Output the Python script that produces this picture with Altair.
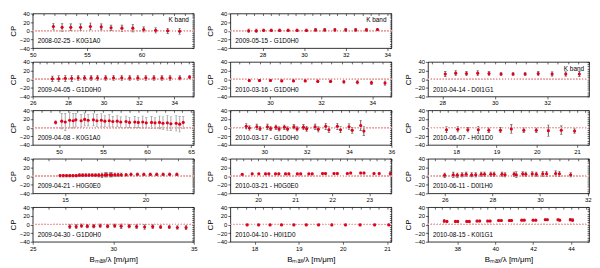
import altair as alt
import pandas as pd

FONT = "Liberation Sans"
RED = "#e3001b"

# ---------------- data ----------------
P1_X = [51.9, 52.7, 53.5, 54.4, 55.3, 56.3, 57.2, 58.2, 59.2, 60.2, 61.3, 62.4, 63.5]
P1_Y = [10, 8, 8, 8, 10, 9, 7, 6, 6, 3, 1, 0, -1]
P1_E = [7, 9, 8, 8, 8, 7, 6, 7, 9, 6, 6, 6, 7]

P2_X = [27.11, 27.47, 27.84, 28.2, 28.57, 28.93, 29.3, 29.66, 30.12, 30.57, 31.03, 31.48, 31.94, 32.39, 32.85, 33.3, 33.76, 34.31, 34.86]
P2_Y = [1, 1, 2, 2, 3, 3, 3, 3, 3, 3, 3, 3, 3, 3, 3, 3, 3, 3, 5]
P2_E = [6, 7, 7, 7, 6, 6, 6, 6, 6, 6, 6, 6, 6, 6, 6, 6, 6, 5, 4]

P3_X = [49.6, 50.3, 50.7, 51.2, 51.6, 51.9, 52.5, 52.9, 53.3, 53.9, 54.3, 54.8, 55.2, 55.7, 56.1, 56.6,
        57.0, 57.6, 58.0, 58.6, 59.0, 59.5, 59.9, 60.5, 60.9, 61.4, 61.8, 62.3, 62.7, 63.3, 63.7, 64.1]
P3_Y = [12, 15, 13, 17, 16, 18, 16, 19, 17, 18, 16, 17, 15, 16, 14, 15,
        13, 14, 12, 13, 12, 13, 11, 12, 11, 12, 10, 11, 9, 10, 8, 12]
P3_E = [4, 18, 20, 18, 17, 15, 14, 15, 13, 14, 14, 15, 13, 14, 12, 13,
        12, 13, 12, 13, 12, 14, 12, 14, 13, 15, 15, 17, 16, 18, 18, 14]

P4_X = [14.7, 14.9, 15.1, 15.3, 15.5, 15.7, 15.9, 16.1, 16.3, 16.5, 16.7, 16.9, 17.1, 17.3, 17.5,
        17.6, 17.8, 17.9, 18.1, 18.3, 18.5, 18.8, 19.1, 19.5, 19.9, 20.3, 20.7, 21.1, 21.5, 21.95]
P4_Y = [1, 1, 1, 1, 1, 1, 2, 2, 2, 2, 2, 2, 2, 2, 3, 3, 3, 3, 3, 3, 3, 3, 4, 4, 4, 4, 4, 4, 4, 4]
P4_E = [3, 3, 3, 3, 3, 3, 3, 3, 3, 3, 3, 3, 4, 5, 5, 5, 5, 5, 4, 4, 4, 3, 3, 3, 3, 3, 3, 3, 3, 3]

P5_X = [27.3, 27.7, 28.03, 28.39, 28.79, 29.19, 29.65, 30.09, 30.49, 30.99, 31.45, 31.95, 32.45, 32.94, 33.48, 33.98, 34.52]
P5_Y = [-5, -5, -3, -4, -4, -3, -4, -3, -4, -4, -5, -6, -5, -6, -6, -7, -7]
P5_E = [5, 5, 4, 4, 4, 4, 4, 4, 5, 4, 4, 5, 4, 4, 4, 4, 5]

P6_X = [27.33, 27.7, 28.05, 28.42, 28.82, 29.23, 29.66, 30.11, 30.55, 30.99, 31.48, 32.0, 32.48, 33.0, 33.53]
P6_Y = [0, 0, 1, 1, 1, 1, 1, 1, 2, 2, 2, 2, 2, 2, 3]
P6_E = [4, 4, 3, 3, 3, 3, 3, 3, 3, 3, 3, 3, 3, 3, 3]

P7_X = [29.19, 29.59, 30.02, 30.46, 30.92, 31.38, 31.87, 32.37, 32.89, 33.42, 33.97, 34.5]
P7_Y = [-3, -3, -3, -4, -4, -4, -5, -5, -6, -7, -8, -9]
P7_E = [2, 2, 3, 2, 2, 2, 3, 3, 3, 4, 4, 5]

P8_X = [29.15, 29.3, 29.65, 29.8, 30.15, 30.3, 30.55, 30.7, 30.95, 31.1, 31.4, 31.55,
        31.85, 32.0, 32.4, 32.55, 32.9, 33.05, 33.45, 33.6, 34.0, 34.15, 34.55, 34.7]
P8_Y = [3, -1, 2, -2, 2, -2, 1, -3, 1, -3, 2, -3, 1, -3, 2, -4, 3, -5, 3, -5, 2, -6, 5, -8]
P8_E = [6, 5, 6, 5, 6, 5, 5, 5, 5, 5, 5, 5, 6, 6, 6, 6, 7, 7, 7, 7, 7, 7, 12, 10]

P9_X = [19.57, 19.84, 20.02, 20.2, 20.29, 20.47, 20.56, 20.74, 20.83, 21.06, 21.15, 21.37,
        21.46, 21.74, 21.82, 22.05, 22.14, 22.41, 22.5, 22.77, 22.86, 23.13, 23.27, 23.57]
P9_Y = [4, 5, 5, 5, 5, 5, 5, 5, 5, 5, 5, 5, 5, 6, 6, 6, 6, 6, 7, 7, 7, 6, 6, 6]
P9_E = [2, 2, 2, 2, 2, 2, 2, 2, 2, 2, 2, 2, 2, 2, 2, 2, 2, 2, 2, 2, 2, 2, 2, 4]

P10_X = [17.83, 18.09, 18.35, 18.61, 18.89, 19.17, 19.45, 19.75, 20.06, 20.39, 20.72, 21.04]
P10_Y = [-1, -1, -1, -1, -1, -1, -1, -1, -1, -1, -1, -1]
P10_E = [2, 2, 2, 2, 2, 2, 2, 2, 2, 2, 2, 2]

P11_X = [28.11, 28.51, 28.92, 29.35, 29.78, 30.24, 30.7, 31.16, 31.66, 32.19, 32.71, 33.23]
P11_Y = [12, 14, 13, 14, 13, 12, 12, 12, 13, 12, 12, 12]
P11_E = [6, 6, 5, 6, 5, 4, 4, 4, 5, 5, 5, 6]

P12_X = [17.76, 18.04, 18.29, 18.55, 18.81, 19.1, 19.37, 19.68, 19.99, 20.29, 20.61, 20.94]
P12_Y = [-5, -4, -5, -5, -6, -6, -3, -6, -6, -7, -6, -8]
P12_E = [7, 6, 5, 8, 5, 6, 10, 5, 5, 13, 10, 5]

P13_X = [26.0, 26.36, 26.53, 26.73, 26.9, 27.13, 27.3, 27.53, 27.67, 27.93, 28.07, 28.4,
         28.53, 28.91, 29.0, 29.27, 29.4, 29.67, 29.84, 30.11, 30.27, 30.65, 30.81, 31.28]
P13_Y = [2, 3, 2, 3, 4, 3, 3, 4, 4, 4, 4, 4, 3, 4, 3, 5, 4, 5, 4, 5, 5, 6, 5, 3]
P13_E = [5, 6, 5, 5, 5, 5, 5, 5, 5, 5, 5, 5, 5, 5, 7, 5, 5, 5, 5, 6, 6, 6, 6, 5]

P14_X = [37.31, 37.45, 37.9, 38.02, 38.5, 38.63, 39.04, 39.18, 39.6, 39.73, 40.18, 40.32,
         40.75, 40.86, 41.4, 41.53, 42.0, 42.14, 42.64, 42.75, 43.31, 43.4, 43.96, 44.08]
P14_Y = [8, 7, 7, 7, 7, 7, 8, 8, 8, 8, 9, 9, 9, 9, 10, 10, 10, 10, 11, 11, 11, 10, 11, 10]
P14_E = [4, 2, 2, 2, 2, 2, 2, 2, 2, 2, 2, 2, 2, 2, 2, 2, 2, 2, 2, 2, 2, 2, 3, 3]

LABELS = ["2008-02-25 - K0G1A0", "2009-04-05 - G1D0H0", "2009-04-08 - K0G1A0",
          "2009-04-21 - H0G0E0", "2009-04-30 - G1D0H0", "2009-05-15 - G1D0H0",
          "2010-03-16 - G1D0H0", "2010-03-17 - G1D0H0", "2010-03-21 - H0G0E0",
          "2010-04-10 - H0I1D0", "2010-04-14 - D0I1G1", "2010-06-07 - H0I1D0",
          "2010-06-11 - D0I1H0", "2010-08-15 - K0I1G1"]
X_DOMAINS = [[50, 64.8], [26, 35.1], [47, 65.3], [13, 23], [25, 35],
             [26.45, 34.2], [28.45, 34.75], [28.4, 36], [19.25, 23.6], [17.45, 21.1],
             [27.45, 33.6], [17.3, 21.3], [25.3, 32.05], [36.45, 44.95]]
X_TICKS = [[50, 55, 60], [26, 28, 30, 32, 34], [50, 55, 60, 65], [15, 20], [25, 30, 35],
           [28, 30, 32, 34], [30, 32, 34], [30, 32, 34, 36], [20, 21, 22, 23], [18, 19, 20, 21],
           [28, 30, 32], [18, 19, 20, 21], [26, 28, 30, 32], [38, 40, 42, 44]]
Y_TICKS = [-40, -20, 0, 20, 40]
X_TITLE = "Bₘₐₓ/λ [m/μm]"
Y_TITLE = "CP"

SERIES = [(P1_X, P1_Y, P1_E), (P2_X, P2_Y, P2_E), (P3_X, P3_Y, P3_E), (P4_X, P4_Y, P4_E),
          (P5_X, P5_Y, P5_E), (P6_X, P6_Y, P6_E), (P7_X, P7_Y, P7_E), (P8_X, P8_Y, P8_E),
          (P9_X, P9_Y, P9_E), (P10_X, P10_Y, P10_E), (P11_X, P11_Y, P11_E), (P12_X, P12_Y, P12_E),
          (P13_X, P13_Y, P13_E), (P14_X, P14_Y, P14_E)]

H = 35
W = 163


def minor_values(lo, hi, step):
    out = []
    k = int(lo // step)
    while k * step <= hi + 1e-9:
        v = round(k * step, 4)
        if lo <= v <= hi:
            out.append(v)
        k += 1
    return out


def panel(i, bottom, kband, errcolor="#333333"):
    xs, ys, es = SERIES[i]
    df = pd.DataFrame({"x": xs, "y": ys,
                       "lo": [a - b for a, b in zip(ys, es)],
                       "hi": [a + b for a, b in zip(ys, es)]})
    dom = X_DOMAINS[i]
    ticks = X_TICKS[i]
    xsc = alt.Scale(domain=dom, nice=False, zero=False)
    ysc = alt.Scale(domain=[-40, 40], nice=False, zero=False)
    xax = alt.Axis(values=ticks, format="d", grid=False, title=X_TITLE if bottom else None,
                   titlePadding=5, labelFlush=False, labelOverlap=False)
    yax = alt.Axis(values=Y_TICKS, format="d", grid=False, title=Y_TITLE, titlePadding=2,
                   labelFlush=False, labelOverlap=False)
    X = alt.X("x:Q", scale=xsc, axis=xax)
    base = alt.Chart(df)
    err = base.mark_rule(color=errcolor, strokeWidth=0.75, clip=True).encode(
        x=X, y=alt.Y("lo:Q", scale=ysc, axis=yax), y2="hi:Q")
    zero = base.mark_rule(color="#eba5a5", strokeDash=[1, 2], strokeWidth=0.6).encode(
        y=alt.Y("zero:Q", scale=ysc, axis=yax)).transform_calculate(zero="0")
    capl = base.mark_tick(color=errcolor, size=2.5, thickness=0.6, orient="horizontal",
                          clip=True).encode(x=X, y=alt.Y("lo:Q", scale=ysc, axis=yax))
    caph = base.mark_tick(color=errcolor, size=2.5, thickness=0.6, orient="horizontal",
                          clip=True).encode(x=X, y=alt.Y("hi:Q", scale=ysc, axis=yax))
    pts = base.mark_circle(color=RED, size=10, opacity=1, clip=True).encode(
        x=X, y=alt.Y("y:Q", scale=ysc, axis=yax))
    lab = alt.Chart(pd.DataFrame({"t": [LABELS[i]]})).mark_text(
        align="left", baseline="middle", fontSize=6.5, font=FONT, color="black").encode(
        text="t:N", x=alt.value(5), y=alt.value(H - 7))
    layers = [err, zero, capl, caph, pts, lab]
    if kband:
        kb = alt.Chart(pd.DataFrame({"t": ["K band"]})).mark_text(
            align="right", baseline="middle", fontSize=6.5, font=FONT, color="black").encode(
            text="t:N", x=alt.value(W - 5), y=alt.value(7))
        layers.append(kb)
    inner = alt.layer(*layers)
    # inward minor ticks on the top and right edges of the frame
    step = (ticks[1] - ticks[0]) / 5 if len(ticks) > 1 else 1
    top_ax = alt.Axis(orient="top", labels=False, title=None, grid=False, domain=False,
                      values=minor_values(dom[0], dom[1], step), tickSize=2, offset=-2)
    right_ax = alt.Axis(orient="right", labels=False, title=None, grid=False, domain=False,
                        values=minor_values(-40, 40, 5), tickSize=2, offset=-2)
    frame = base.mark_point(opacity=0).encode(
        x=alt.X("x:Q", scale=xsc, axis=top_ax),
        y=alt.Y("y:Q", scale=ysc, axis=right_ax))
    return alt.layer(inner, frame).resolve_axis(x="independent", y="independent").properties(
        width=W, height=H)


def blank():
    return alt.Chart(pd.DataFrame({"a": [0]})).mark_point(opacity=0).encode(
        x=alt.X("a:Q", axis=None), y=alt.Y("a:Q", axis=None)).properties(
        width=W, height=H, view=alt.ViewBackground(strokeOpacity=0))


cells = [
    panel(0, False, True), panel(5, False, True), blank(),
    panel(1, False, False), panel(6, False, False), panel(10, False, True),
    panel(2, False, False, "#8a8a8a"), panel(7, False, False), panel(11, False, False),
    panel(3, False, False), panel(8, False, False), panel(12, False, False),
    panel(4, True, False), panel(9, True, False), panel(13, True, False),
]

chart = alt.concat(*cells, columns=3, spacing={"row": 14, "column": 37}, bounds="flush").properties(
    padding=0
).configure_view(
    stroke="black", strokeWidth=0.8
).configure_axis(
    labelFont=FONT, titleFont=FONT, labelFontSize=6, titleFontSize=8,
    titleFontWeight="normal", tickSize=2.5, labelPadding=1, domain=False,
    tickColor="black", labelColor="black", titleColor="black", tickWidth=0.6
).configure_axisY(
    labelAlign="right"
)

chart.save("out.html", embed_options={"renderer": "svg", "actions": False})
